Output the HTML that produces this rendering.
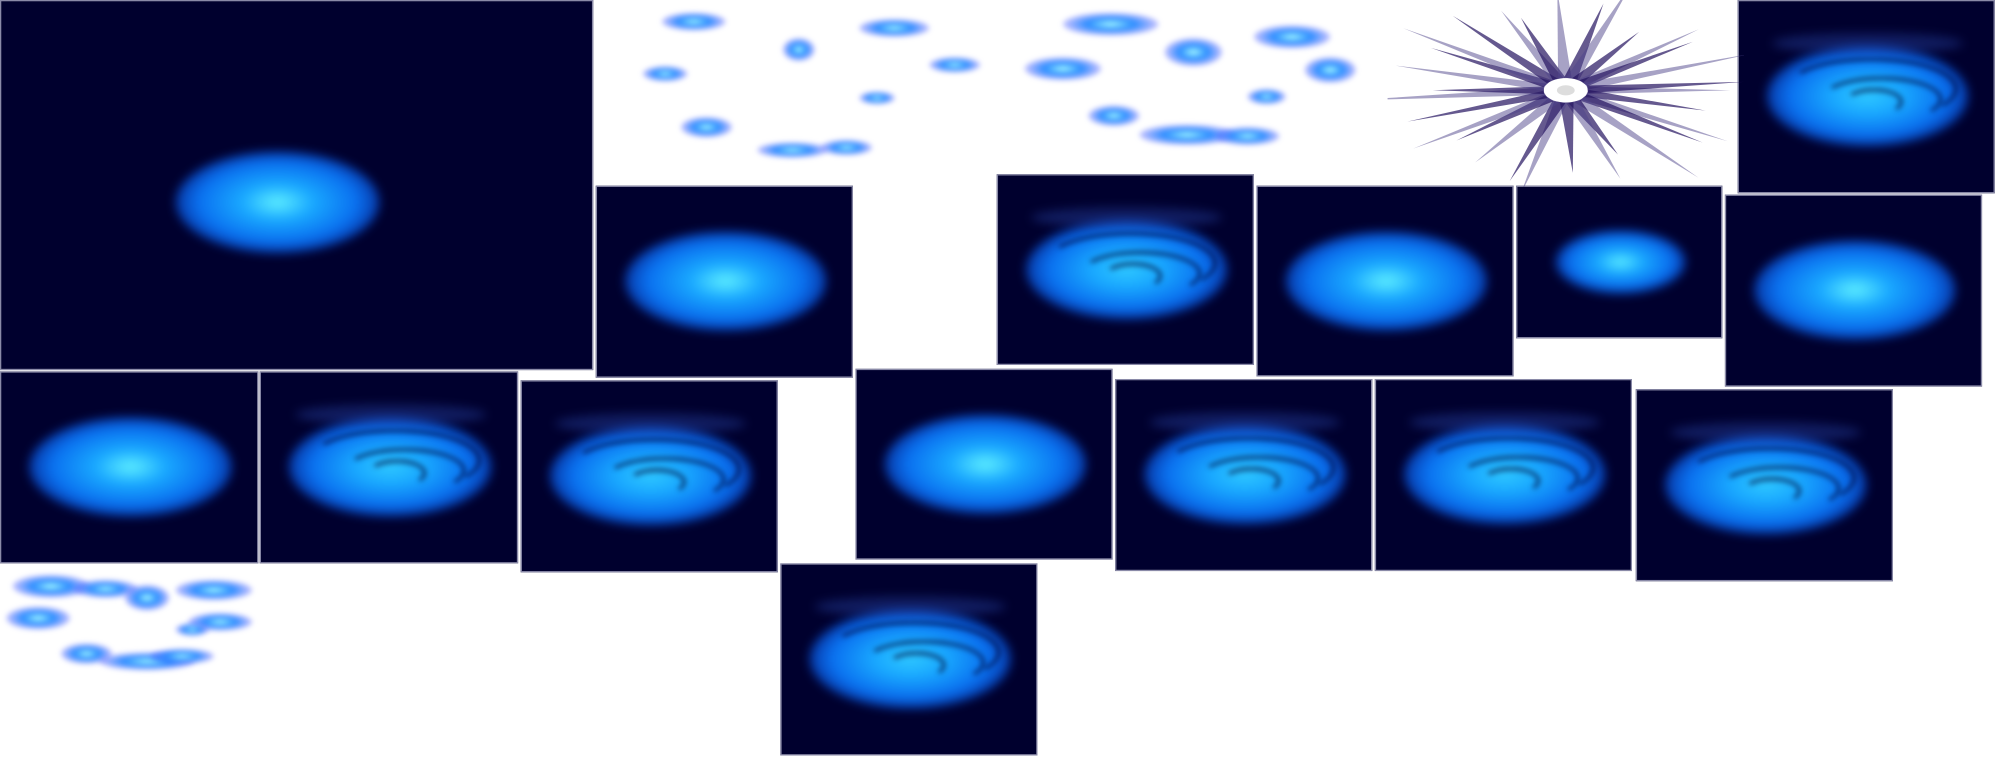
<!DOCTYPE html>
<html><head><meta charset="utf-8">
<style>
html,body{margin:0;padding:0;background:#fff;width:1996px;height:758px;overflow:hidden}
#sheet{position:absolute;left:0;top:0;width:1568px;height:596px;transform:scale(1.273,1.2718);transform-origin:0 0}
.tile{position:absolute;background:#00002e;border:1px solid #8a8aa8;box-sizing:border-box;overflow:hidden}
.glow{position:absolute;border-radius:50%;filter:blur(4px)}
.arc{position:absolute;border-radius:50%;border:3px solid rgba(0,0,46,0.6);border-bottom-color:transparent;border-left-color:transparent;filter:blur(2px)}
.wisp{position:absolute;border-radius:50%;background:radial-gradient(ellipse,#aff 0%,#2a8cff 35%,rgba(60,80,255,0.4) 65%,rgba(255,255,255,0) 100%);filter:blur(2px)}
</style></head><body>
<div id="sheet"></div>
<script>
const tiles=[
 [0,0,466,291,0,0.55],
 [468,146,202,151,0,1],
 [783,137,202,150,1,1],
 [987,146,202,150,0,1],
 [1191,146,162,120,0,0.8],
 [1355,153,202,151,0,1],
 [1365,0,202,152,1,1],
 [0,292,203,151,0,1],
 [204,292,203,151,1,1],
 [409,299,202,151,1,1],
 [672,290,202,150,0,1],
 [876,298,202,151,1,1],
 [1080,298,202,151,1,1],
 [1285,306,202,151,1,1],
 [613,443,202,151,1,1]
];
const sheet=document.getElementById('sheet');
tiles.forEach((t,i)=>{
 const d=document.createElement('div');
 d.className='tile';
 
 
 d.style.cssText=`left:${t[0]}px;top:${t[1]}px;width:${t[2]}px;height:${t[3]}px`;
 const g=document.createElement('div');
 g.className='glow';
 
 
 let gw,gh,cx,cy;
 if(i===0){gw=160;gh=80;cx=217;cy=158;}
 else{gw=t[2]*0.78*t[5];gh=t[3]*0.52*t[5];cx=t[2]/2;cy=t[3]*0.49;}
 const sw=t[4]===1;
 g.style.cssText=`left:${cx-gw/2}px;top:${cy-gh/2}px;width:${gw}px;height:${gh}px;background:radial-gradient(ellipse at 50% 50%,${sw?'#2fc8ff':'#5ff0ff'} 0%,#19a8ff 25%,#0a70f0 55%,rgba(10,60,220,0.5) 78%,rgba(0,0,46,0) 100%)`;
 d.appendChild(g);
 if(sw){
  const arcs=[[130,44,0,-8],[90,30,8,0],[40,16,2,2]];
  arcs.forEach(a0=>{
   const a=document.createElement('div');
   a.className='arc';
   
   
   a.style.cssText=`left:${cx-a0[0]/2+a0[2]}px;top:${cy-a0[1]/2+a0[3]}px;width:${a0[0]}px;height:${a0[1]}px`;
   d.appendChild(a);
  });
  const dk=document.createElement('div');
  dk.style.cssText=`position:absolute;left:${cx-75}px;top:${cy-gh/2-10}px;width:150px;height:16px;border-radius:50%;background:rgba(40,70,170,0.4);filter:blur(4px)`;
  
  
  d.appendChild(dk);
 }
 sheet.appendChild(d);
});
const wisps=[[520,10,50,14],[505,52,35,12],[615,30,25,18],[675,15,55,14],[730,45,40,12],[535,92,40,16],[595,112,55,12],[645,110,40,12],[675,72,28,10],
 [835,10,75,18],[915,30,45,22],[985,20,60,18],[1025,45,40,20],[805,45,60,18],[855,83,40,16],[895,98,75,16],[955,100,50,14],[980,70,30,12],
 [10,452,60,18],[58,456,50,14],[98,460,35,20],[138,456,60,16],[5,477,50,18],[148,482,50,14],[138,490,26,10],[48,506,40,16],[78,513,75,14],[118,510,50,12]];
wisps.forEach(w=>{
 const e=document.createElement('div');
 e.className='wisp';
 
 
 e.style.cssText=`left:${w[0]}px;top:${w[1]}px;width:${w[2]}px;height:${w[3]}px`;
 sheet.appendChild(e);
});
const ns='http://www.w3.org/2000/svg';
const svg=document.createElementNS(ns,'svg');


svg.setAttribute('width','280');svg.setAttribute('height','150');
svg.style.cssText='position:absolute;left:1090px;top:-3px';
const cx=140,cy=74;
for(let k=0;k<30;k++){
 const ang=k/30*Math.PI*2+(k%3)*0.06;
 const r=(k%2?55:68)+(k%5)*5;
 const p=document.createElementNS(ns,'polygon');
 const w=0.3;
 const b=10;
 const pts=[[cx+Math.cos(ang-w)*b*1.8,cy+Math.sin(ang-w)*b],[cx+Math.cos(ang)*r*1.9,cy+Math.sin(ang)*r],[cx+Math.cos(ang+w)*b*1.8,cy+Math.sin(ang+w)*b]];
 p.setAttribute('points',pts.map(q=>q.join(',')).join(' '));
 p.setAttribute('fill',k%2?'rgba(35,18,95,0.7)':'rgba(80,70,140,0.5)');
 
 
 svg.appendChild(p);
}
const c=document.createElementNS(ns,'ellipse');
c.setAttribute('cx',cx);c.setAttribute('cy',cy);c.setAttribute('rx',7);c.setAttribute('ry',4);c.setAttribute('fill','#ddd');


svg.appendChild(c);
sheet.appendChild(svg);
</script>
</body></html>
